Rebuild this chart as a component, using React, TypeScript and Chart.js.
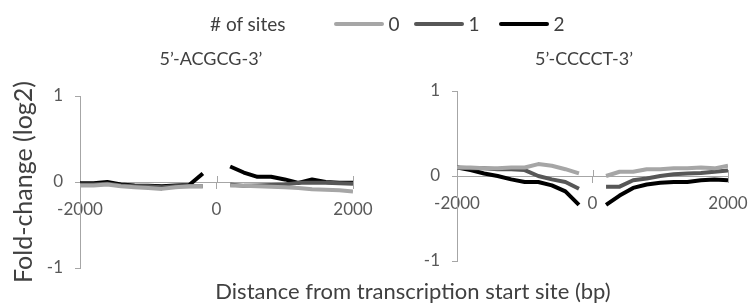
import React, { useEffect, useRef } from "react";
import { Chart, registerables } from "chart.js";

Chart.register(...registerables);

// ---------- data ----------
const upstreamPositions = [-2000, -1800, -1600, -1400, -1200, -1000, -800, -600, -400, -200];
const downstreamPositions = [200, 400, 600, 800, 1000, 1200, 1400, 1600, 1800, 2000];

const seriesLabels = ["0", "1", "2"];
const seriesColors = ["#a6a6a6", "#575757", "#000000"];

const xTickValues = [-2000, 0, 2000];
const yTickValues = [-1, 0, 1];

const panelTitles = ["5\u2019-ACGCG-3\u2019", "5\u2019-CCCCT-3\u2019"];

// ACGCG panel
const acgcgSites0Up = [-0.04, -0.04, -0.03, -0.05, -0.06, -0.07, -0.08, -0.06, -0.05, -0.05];
const acgcgSites0Down = [-0.04, -0.045, -0.05, -0.055, -0.06, -0.07, -0.085, -0.09, -0.095, -0.11];
const acgcgSites1Up = [-0.03, -0.03, -0.02, -0.04, -0.05, -0.05, -0.06, -0.05, -0.05, -0.05];
const acgcgSites1Down = [-0.03, -0.045, -0.04, -0.035, -0.03, -0.01, -0.01, -0.01, -0.015, -0.02];
const acgcgSites2Up = [-0.015, -0.015, 0.0, -0.03, -0.04, -0.045, -0.05, -0.04, -0.035, 0.1];
const acgcgSites2Down = [0.18, 0.11, 0.06, 0.06, 0.03, -0.01, 0.03, 0.0, -0.01, -0.01];

// CCCCT panel
const cccctSites0Up = [0.1, 0.1, 0.09, 0.09, 0.1, 0.1, 0.14, 0.12, 0.08, 0.03];
const cccctSites0Down = [0.0, 0.05, 0.05, 0.08, 0.08, 0.09, 0.09, 0.1, 0.09, 0.12];
const cccctSites1Up = [0.1, 0.09, 0.09, 0.08, 0.08, 0.07, 0.0, -0.04, -0.07, -0.15];
const cccctSites1Down = [-0.125, -0.125, -0.05, -0.03, 0.0, 0.02, 0.03, 0.035, 0.05, 0.065];
const cccctSites2Up = [0.1, 0.07, 0.03, 0.0, -0.04, -0.07, -0.07, -0.11, -0.18, -0.34];
const cccctSites2Down = [-0.34, -0.23, -0.14, -0.1, -0.08, -0.07, -0.07, -0.05, -0.04, -0.05];

// ---------- helpers ----------
const FONT = "Lato, 'Open Sans', sans-serif";
const AXIS_COLOR = "#a6a6a6";
const TICK_COLOR = "#595959";
const TEXT_COLOR = "#404040";

function buildPoints(up: number[], down: number[]) {
  const pts: { x: number; y: number | null }[] = [];
  upstreamPositions.forEach((p, i) => pts.push({ x: p, y: up[i] }));
  pts.push({ x: 0, y: null });
  downstreamPositions.forEach((p, i) => pts.push({ x: p, y: down[i] }));
  return pts;
}

const crossTicksPlugin = {
  id: "crossTicks",
  afterDraw(chart: any) {
    const x = chart.scales.x;
    const y = chart.scales.y;
    const y0 = y.getPixelForValue(0);
    const ctx = chart.ctx;
    ctx.save();
    ctx.strokeStyle = AXIS_COLOR;
    ctx.lineWidth = 1;
    xTickValues.forEach((v) => {
      if (v === x.min) return;
      const px = Math.round(x.getPixelForValue(v)) + 0.5;
      ctx.beginPath();
      ctx.moveTo(px, y0 - 6);
      ctx.lineTo(px, y0);
      ctx.stroke();
    });
    ctx.restore();
  },
};

type PanelProps = {
  series: { up: number[]; down: number[] }[];
  width: number;
  height: number;
  padding: { top: number; right: number; bottom: number };
  yAxisWidth: number;
};

function Panel({ series, width, height, padding, yAxisWidth }: PanelProps) {
  const ref = useRef<HTMLCanvasElement | null>(null);
  useEffect(() => {
    if (!ref.current) return;
    const chart = new Chart(ref.current, {
      type: "line",
      data: {
        datasets: series.map((s, i) => ({
          label: seriesLabels[i],
          data: buildPoints(s.up, s.down) as any,
          borderColor: seriesColors[i],
          backgroundColor: seriesColors[i],
          borderWidth: 4,
          pointRadius: 0,
          tension: 0,
          spanGaps: false,
          borderCapStyle: "butt",
          borderJoinStyle: "round",
        })),
      },
      options: {
        responsive: false,
        animation: false,
        layout: { padding: { left: 0, top: padding.top, right: padding.right, bottom: padding.bottom } },
        plugins: { legend: { display: false }, tooltip: { enabled: false }, title: { display: false } },
        scales: {
          x: {
            type: "linear",
            min: -2000,
            max: 2000,
            position: { y: 0 } as any,
            afterBuildTicks: (scale: any) => {
              scale.ticks = xTickValues.map((v) => ({ value: v }));
            },
            afterFit: (scale: any) => {
              scale.paddingLeft = 0;
              scale.paddingRight = 0;
            },
            ticks: {
              color: TICK_COLOR,
              font: { family: FONT, size: 17 },
              padding: 11,
              maxRotation: 0,
              autoSkip: false,
              callback: (v: any) => String(v),
            },
            grid: { drawOnChartArea: false, drawTicks: true, tickLength: 6, color: AXIS_COLOR },
            border: { color: AXIS_COLOR, width: 1 },
          },
          y: {
            type: "linear",
            min: -1,
            max: 1,
            afterBuildTicks: (scale: any) => {
              scale.ticks = yTickValues.map((v) => ({ value: v }));
            },
            afterFit: (scale: any) => {
              scale.width = yAxisWidth;
              scale.paddingTop = 0;
              scale.paddingBottom = 0;
            },
            ticks: {
              color: TICK_COLOR,
              font: { family: FONT, size: 17 },
              padding: 12,
              callback: (v: any) => String(v),
            },
            grid: { drawOnChartArea: false, drawTicks: true, tickLength: 5, color: AXIS_COLOR },
            border: { color: AXIS_COLOR, width: 1 },
          },
        },
      },
      plugins: [crossTicksPlugin],
    });
    return () => chart.destroy();
  }, []);
  return <canvas ref={ref} width={width} height={height} style={{ display: "block", width, height }} />;
}

const legendLineLefts = [334, 414, 499];
const legendLabelCenters = [394, 474, 559];

export default function App() {
  useEffect(() => {
    document.body.style.margin = "0";
  }, []);
  return (
    <div style={{ position: "relative", width: 751, height: 307, background: "#fff", fontFamily: FONT, color: TEXT_COLOR, overflow: "hidden" }}>
      <div style={{ position: "absolute", left: 0, top: 0 }}>
        <Panel
          series={[
            { up: acgcgSites0Up, down: acgcgSites0Down },
            { up: acgcgSites1Up, down: acgcgSites1Down },
            { up: acgcgSites2Up, down: acgcgSites2Down },
          ]}
          width={375}
          height={307}
          padding={{ top: 96, right: 22, bottom: 39 }}
          yAxisWidth={80}
        />
      </div>
      <div style={{ position: "absolute", left: 375, top: 0 }}>
        <Panel
          series={[
            { up: cccctSites0Up, down: cccctSites0Down },
            { up: cccctSites1Up, down: cccctSites1Down },
            { up: cccctSites2Up, down: cccctSites2Down },
          ]}
          width={376}
          height={307}
          padding={{ top: 91, right: 23, bottom: 46 }}
          yAxisWidth={82}
        />
      </div>
      {/* legend */}
      <div style={{ position: "absolute", left: 210, top: 11, lineHeight: "26px", fontSize: 19, whiteSpace: "nowrap" }}># of sites</div>
      {seriesLabels.map((l, i) => (
        <React.Fragment key={l}>
          <div style={{ position: "absolute", left: legendLineLefts[i], top: 22, width: 50, height: 4, background: seriesColors[i], borderRadius: 2 }} />
          <div style={{ position: "absolute", left: legendLabelCenters[i] - 10, width: 20, top: 11, lineHeight: "26px", fontSize: 19, textAlign: "center" }}>{l}</div>
        </React.Fragment>
      ))}
      {/* panel titles */}
      <div style={{ position: "absolute", left: 211 - 100, width: 200, top: 45, textAlign: "center", fontSize: 18, lineHeight: "26px" }}>{panelTitles[0]}</div>
      <div style={{ position: "absolute", left: 584 - 100, width: 200, top: 45, textAlign: "center", fontSize: 18, lineHeight: "26px" }}>{panelTitles[1]}</div>
      {/* axis titles */}
      <div style={{ position: "absolute", left: 22 - 120, top: 182 - 14, width: 240, height: 28, lineHeight: "28px", textAlign: "center", fontSize: 25, transform: "rotate(-90deg)" }}>
        Fold-change (log2)
      </div>
      <div style={{ position: "absolute", left: 413 - 250, width: 500, top: 278, lineHeight: "26px", textAlign: "center", fontSize: 22 }}>
        Distance from transcription start site (bp)
      </div>
    </div>
  );
}
